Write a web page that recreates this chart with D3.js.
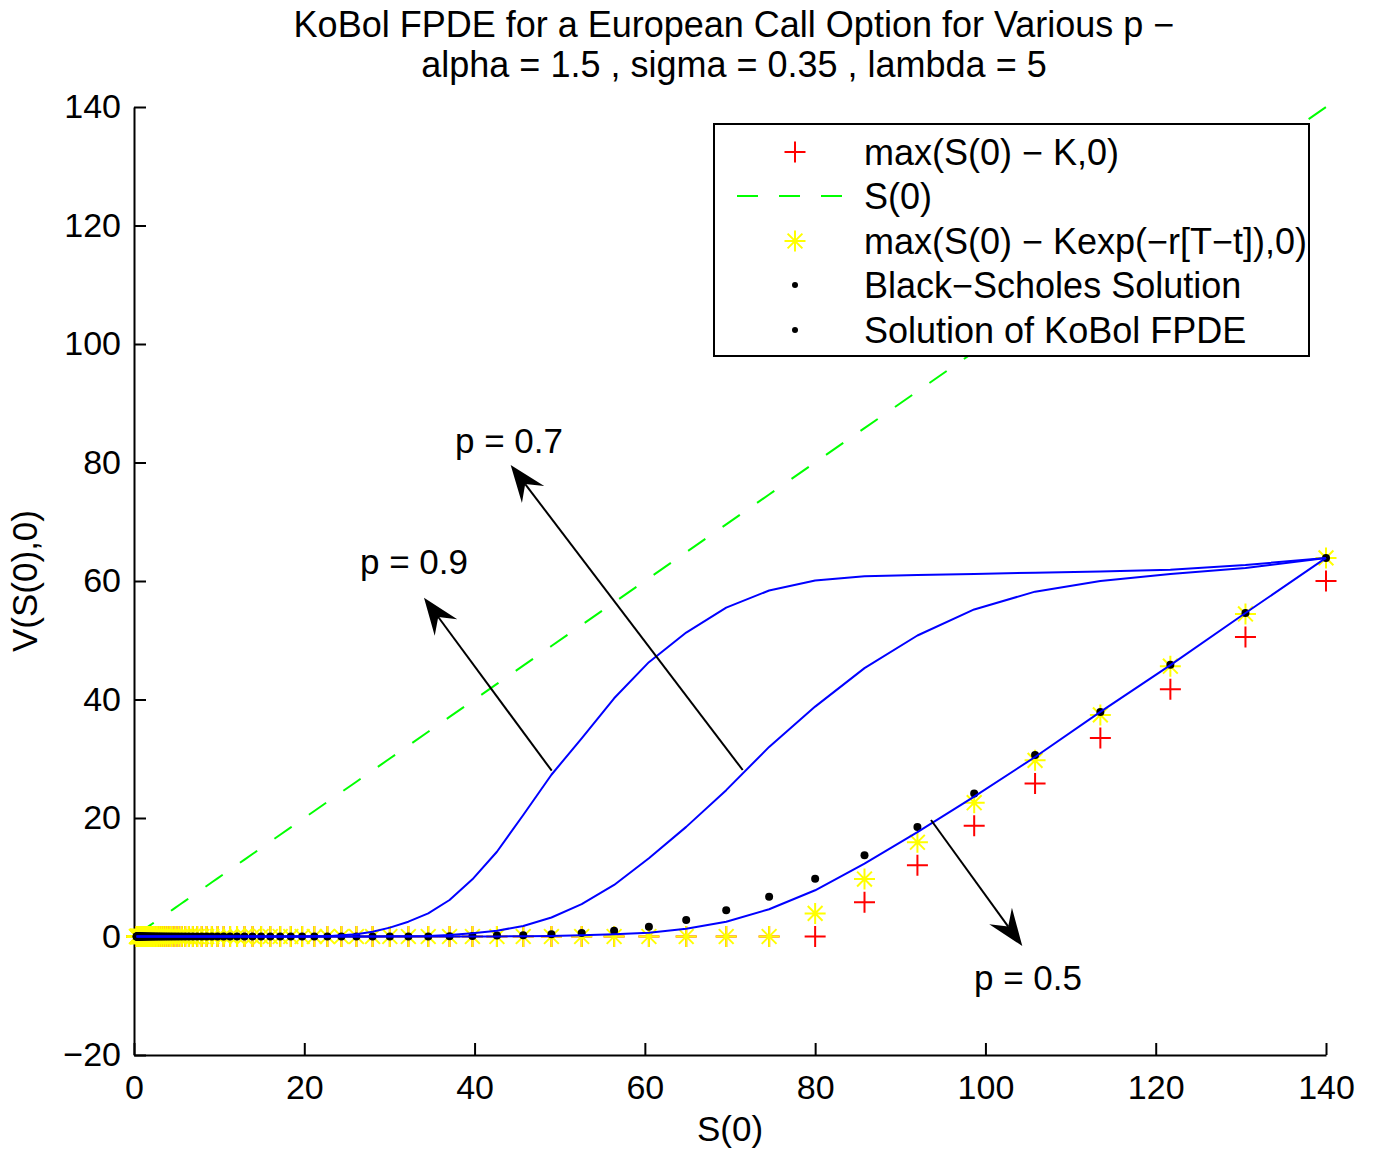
<!DOCTYPE html>
<html>
<head>
<meta charset="utf-8">
<script src="https://cdn.jsdelivr.net/npm/d3@7"></script>
<style>
  html, body { margin: 0; padding: 0; background: #ffffff; }
  svg { display: block; }
  text { font-family: "Liberation Sans", Arial, Helvetica, sans-serif; fill: #000; }
</style>
</head>
<body>
<svg id="chart" width="1375" height="1154"></svg>
<script>
// ---------------- DATA ----------------
// Stock price grid S(0) (log-spaced)
const S = [
  0.297, 0.318, 0.341, 0.366, 0.393, 0.421, 0.452, 0.485, 0.520, 0.557,
  0.598, 0.641, 0.687, 0.737, 0.791, 0.848, 0.909, 0.975, 1.046, 1.122,
  1.203, 1.291, 1.384, 1.484, 1.592, 1.707, 1.831, 1.964, 2.106, 2.258,
  2.422, 2.597, 2.786, 2.987, 3.204, 3.436, 3.685, 3.952, 4.238, 4.545,
  4.875, 5.228, 5.607, 6.013, 6.448, 6.916, 7.417, 7.954, 8.530, 9.148,
  9.811, 10.522, 11.285, 12.102, 12.979, 13.920, 14.928, 16.010, 17.170, 18.414,
  19.748, 21.179, 22.713, 24.359, 26.124, 28.017, 30.047, 32.224, 34.558, 37.062,
  39.747, 42.627, 45.716, 49.028, 52.580, 56.389, 60.475, 64.856, 69.555, 74.595,
  80.000, 85.797, 92.013, 98.680, 105.830, 113.498, 121.721, 130.541, 140.000
];

// max(S(0) - K, 0)
const payoff = [
  0,0,0,0,0,0,0,0,0,0,
  0,0,0,0,0,0,0,0,0,0,
  0,0,0,0,0,0,0,0,0,0,
  0,0,0,0,0,0,0,0,0,0,
  0,0,0,0,0,0,0,0,0,0,
  0,0,0,0,0,0,0,0,0,0,
  0,0,0,0,0,0,0,0,0,0,
  0,0,0,0,0,0,0,0,0,0,
  0, 5.80, 12.01, 18.68, 25.83, 33.50, 41.72, 50.54, 60.00
];

// max(S(0) - K exp(-r[T-t]), 0)
const discPayoff = [
  0,0,0,0,0,0,0,0,0,0,
  0,0,0,0,0,0,0,0,0,0,
  0,0,0,0,0,0,0,0,0,0,
  0,0,0,0,0,0,0,0,0,0,
  0,0,0,0,0,0,0,0,0,0,
  0,0,0,0,0,0,0,0,0,0,
  0,0,0,0,0,0,0,0,0,0,
  0,0,0,0,0,0,0,0,0,0,
  3.90, 9.70, 15.91, 22.58, 29.73, 37.40, 45.62, 54.44, 63.90
];

// Black-Scholes solution
const bsSolution = [
  0,0,0,0,0,0,0,0,0,0,
  0,0,0,0,0,0,0,0,0,0,
  0,0,0,0,0,0,0,0,0,0,
  0,0,0,0,0,0,0,0,0,0,
  0,0,0,0,0,0,0,0,0,0,
  0,0,0,0,0,0,0,0,0,0,
  0, 0, 0, 0, 0, 0, 0, 0.01, 0.02, 0.05,
  0.09, 0.15, 0.22, 0.37, 0.60, 0.98, 1.66, 2.78, 4.42, 6.70,
  9.75, 13.70, 18.50, 24.15, 30.62, 37.90, 45.85, 54.60, 63.90
];

// KoBol FPDE solutions for p = 0.5, 0.7, 0.9
const kobolP05 = [
  0,0,0,0,0,0,0,0,0,0,
  0,0,0,0,0,0,0,0,0,0,
  0,0,0,0,0,0,0,0,0,0,
  0,0,0,0,0,0,0,0,0,0,
  0,0,0,0,0,0,0,0,0,0,
  0,0,0,0,0,0,0,0,0,0,
  0,0,0,0,0,0,0,0,0,0,
  0.01, 0.02, 0.05, 0.10, 0.20, 0.37, 0.65, 1.30, 2.50, 4.60,
  7.80, 12.30, 17.60, 23.60, 30.30, 37.90, 45.80, 54.60, 63.90
];
const kobolP07 = [
  0,0,0,0,0,0,0,0,0,0,
  0,0,0,0,0,0,0,0,0,0,
  0,0,0,0,0,0,0,0,0,0,
  0,0,0,0,0,0,0,0,0,0,
  0,0,0,0,0,0,0,0,0,0,
  0,0,0,0,0,0,0,0,0,0,
  0, 0, 0, 0, 0.01, 0.02, 0.03, 0.05, 0.10, 0.25,
  0.54, 0.98, 1.77, 3.20, 5.45, 8.70, 13.20, 18.50, 24.70, 32.00,
  38.80, 45.30, 50.80, 55.20, 58.20, 60.00, 61.20, 62.20, 63.90
];
const kobolP09 = [
  0,0,0,0,0,0,0,0,0,0,
  0,0,0,0,0,0,0,0,0,0,
  0,0,0,0,0,0,0,0,0,0,
  0,0,0,0,0,0,0,0,0,0,
  0,0,0,0,0,0,0,0,0,0,
  0,0,0,0,0,0,0,0,0,0,
  0.02, 0.03, 0.05, 0.20, 0.37, 0.80, 1.50, 2.50, 3.91, 6.16,
  9.65, 14.30, 20.50, 27.30, 33.45, 40.20, 46.30, 51.30, 55.50, 58.40,
  60.10, 60.80, 61.00, 61.20, 61.40, 61.60, 61.90, 62.70, 63.90
];

const xTicks = [0, 20, 40, 60, 80, 100, 120, 140];
const yTicks = [-20, 0, 20, 40, 60, 80, 100, 120, 140];

const titleLines = [
  "KoBol FPDE for a European Call Option for Various p \u2212",
  "alpha = 1.5 , sigma = 0.35 , lambda = 5"
];
const xLabel = "S(0)";
const yLabel = "V(S(0),0)";

const legendLabels = [
  "max(S(0) \u2212 K,0)",
  "S(0)",
  "max(S(0) \u2212 Kexp(\u2212r[T\u2212t]),0)",
  "Black\u2212Scholes Solution",
  "Solution of KoBol FPDE"
];

// Annotation arrows (data coordinates: tail S, tail V, tip S, tip V) and their labels
const arrowLabels = ["p = 0.9", "p = 0.7", "p = 0.5"];
const arrowTails = [[49.06, 27.98], [71.49, 28.10], [93.61, 19.66]];
const arrowTips  = [[34.06, 57.18], [44.24, 79.58], [104.33, -1.60]];
const arrowTextPos = [[26.54, 61.18], [37.70, 81.60], [98.66, -9.03]];

// ---------------- LAYOUT ----------------
const svg = d3.select("#chart");
const plot = { left: 134, right: 1326, top: 107, bottom: 1055 };

const x = d3.scaleLinear().domain([0, 140]).range([plot.left, plot.right]);
const y = d3.scaleLinear().domain([-20, 140]).range([plot.bottom, plot.top]);

svg.append("rect").attr("width", 1375).attr("height", 1154).attr("fill", "#fff");

// ---------------- AXES ----------------
const xAxis = d3.axisBottom(x).tickValues(xTicks).tickSizeInner(-12).tickSizeOuter(0).tickPadding(20)
  .tickFormat(d3.format("d"));
const yAxis = d3.axisLeft(y).tickValues(yTicks).tickSizeInner(-12).tickSizeOuter(0).tickPadding(13)
  .tickFormat(d3.format("d"));

const gx = svg.append("g").attr("transform", `translate(0,${plot.bottom})`).call(xAxis);
const gy = svg.append("g").attr("transform", `translate(${plot.left},0)`).call(yAxis);
[gx, gy].forEach(g => {
  g.select(".domain").attr("stroke", "#000").attr("stroke-width", 2);
  g.selectAll(".tick line").attr("stroke", "#000").attr("stroke-width", 2);
  g.selectAll(".tick text").attr("font-size", 34)
    .attr("font-family", "'Liberation Sans', Arial, Helvetica, sans-serif").attr("fill", "#000");
});

// ---------------- SERIES ----------------
const idx = d3.range(S.length);
const plus = "M-10.5,0H10.5M0,-10.5V10.5";
const star = "M-10.5,0H10.5M0,-10.5V10.5M-7.4,-7.4L7.4,7.4M-7.4,7.4L7.4,-7.4";

// red + : max(S-K,0)
svg.append("g").selectAll("path").data(idx).join("path")
  .attr("d", plus)
  .attr("transform", i => `translate(${x(S[i])},${y(payoff[i])})`)
  .attr("stroke", "#ff0000").attr("stroke-width", 2).attr("fill", "none");

// green dashed : S(0)
const line = d3.line().x(d => x(d[0])).y(d => y(d[1]));
svg.append("path")
  .attr("d", line(idx.map(i => [S[i], S[i]])))
  .attr("fill", "none").attr("stroke", "#00ff00").attr("stroke-width", 2)
  .attr("stroke-dasharray", "21,21");

// yellow * : discounted payoff
svg.append("g").selectAll("path").data(idx).join("path")
  .attr("d", star)
  .attr("transform", i => `translate(${x(S[i])},${y(discPayoff[i])})`)
  .attr("stroke", "#ffff00").attr("stroke-width", 2).attr("fill", "none");

// black dots : Black-Scholes
svg.append("g").selectAll("circle").data(idx).join("circle")
  .attr("cx", i => x(S[i])).attr("cy", i => y(bsSolution[i])).attr("r", 4)
  .attr("fill", "#000");

// blue lines : KoBol FPDE
[kobolP05, kobolP07, kobolP09].forEach(vals => {
  svg.append("path")
    .attr("d", line(idx.map(i => [S[i], vals[i]])))
    .attr("fill", "none").attr("stroke", "#0000ff").attr("stroke-width", 2)
    .attr("stroke-linejoin", "round");
});

// ---------------- ANNOTATIONS ----------------
arrowLabels.forEach((lab, k) => {
  const tx = x(arrowTails[k][0]), ty = y(arrowTails[k][1]);
  const px = x(arrowTips[k][0]), py = y(arrowTips[k][1]);
  const len = Math.hypot(px - tx, py - ty);
  const ux = (px - tx) / len, uy = (py - ty) / len;
  const nx = -uy, ny = ux;
  const headLen = 37, headHalf = 14, notch = 24;
  svg.append("line")
    .attr("x1", tx).attr("y1", ty)
    .attr("x2", px - notch * ux).attr("y2", py - notch * uy)
    .attr("stroke", "#000").attr("stroke-width", 2);
  const pts = [
    [px, py],
    [px - headLen * ux + headHalf * nx, py - headLen * uy + headHalf * ny],
    [px - notch * ux, py - notch * uy],
    [px - headLen * ux - headHalf * nx, py - headLen * uy - headHalf * ny]
  ];
  svg.append("polygon").attr("points", pts.map(p => p.join(",")).join(" ")).attr("fill", "#000");
  svg.append("text")
    .attr("x", x(arrowTextPos[k][0])).attr("y", y(arrowTextPos[k][1]))
    .attr("font-size", 35).text(lab);
});

// ---------------- TITLE & LABELS ----------------
svg.append("text").attr("x", 734).attr("y", 37).attr("text-anchor", "middle")
  .attr("font-size", 36).text(titleLines[0]);
svg.append("text").attr("x", 734).attr("y", 77).attr("text-anchor", "middle")
  .attr("font-size", 36).text(titleLines[1]);

svg.append("text").attr("x", (plot.left + plot.right) / 2).attr("y", 1141)
  .attr("text-anchor", "middle").attr("font-size", 35).text(xLabel);
svg.append("text").attr("transform", `translate(37,${(plot.top + plot.bottom) / 2}) rotate(-90)`)
  .attr("text-anchor", "middle").attr("font-size", 35).text(yLabel);

// ---------------- LEGEND ----------------
const lg = svg.append("g");
lg.append("rect").attr("x", 714).attr("y", 124).attr("width", 595).attr("height", 232)
  .attr("fill", "#fff").attr("stroke", "#000").attr("stroke-width", 2);
const rowY = [152, 196, 241, 285, 330];
const mx = 795;
lg.append("path").attr("d", plus).attr("transform", `translate(${mx},${rowY[0]})`)
  .attr("stroke", "#ff0000").attr("stroke-width", 2).attr("fill", "none");
lg.append("line").attr("x1", 737).attr("x2", 846).attr("y1", rowY[1]).attr("y2", rowY[1])
  .attr("stroke", "#00ff00").attr("stroke-width", 2).attr("stroke-dasharray", "21,21");
lg.append("path").attr("d", star).attr("transform", `translate(${mx},${rowY[2]})`)
  .attr("stroke", "#ffff00").attr("stroke-width", 2).attr("fill", "none");
lg.append("circle").attr("cx", mx).attr("cy", rowY[3]).attr("r", 3).attr("fill", "#000");
lg.append("circle").attr("cx", mx).attr("cy", rowY[4]).attr("r", 3).attr("fill", "#000");
legendLabels.forEach((t, k) => {
  lg.append("text").attr("x", 864).attr("y", rowY[k]).attr("dy", "0.36em")
    .attr("font-size", 36).text(t);
});
</script>
</body>
</html>
